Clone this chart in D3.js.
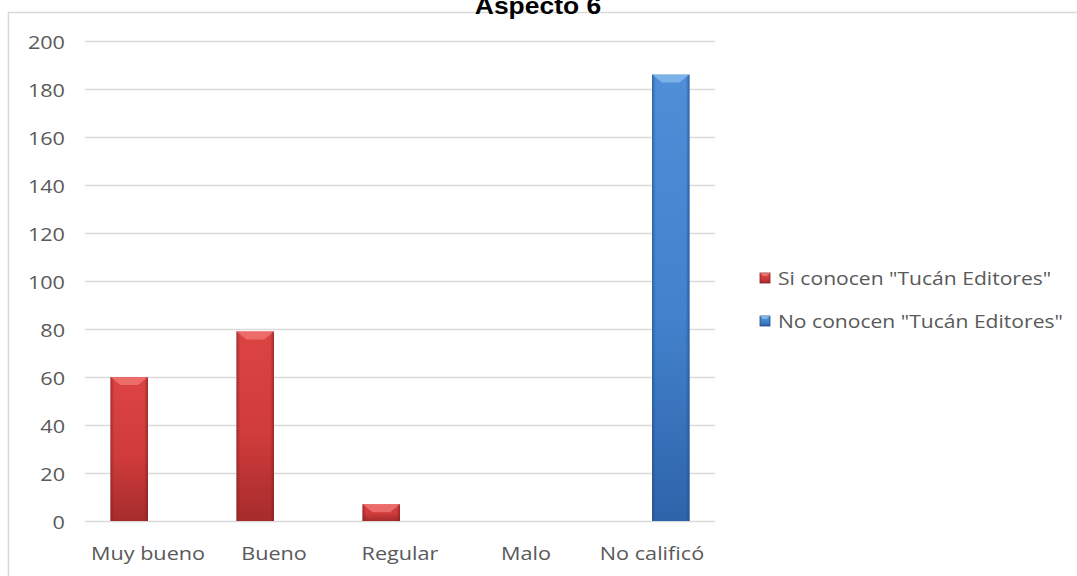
<!DOCTYPE html>
<html>
<head>
<meta charset="utf-8">
<script src="https://cdn.jsdelivr.net/npm/d3@7"></script>
<style>
  body { margin: 0; background: #fff; }
  #chart { width: 1077px; height: 576px; }
  .tick text { font-family: "Open Sans", sans-serif; font-size: 18.5px; fill: #595959; }
  .legend text { font-family: "Open Sans", sans-serif; font-size: 18.5px; fill: #595959; }
</style>
</head>
<body>
<div id="chart"></div>
<script>
var categories = ['Muy bueno', 'Bueno', 'Regular', 'Malo', 'No calificó'];
var seriesNames = ['Si conocen "Tucán Editores"', 'No conocen "Tucán Editores"'];
var siConocen = [60, 79, 7, 0, 0];
var noConocen = [0, 0, 0, 0, 186];
var yTicks = [0, 20, 40, 60, 80, 100, 120, 140, 160, 180, 200];

var W = 1077, H = 576;
var margin = {top: 41, right: 362, bottom: 55, left: 85};
var width = W - margin.left - margin.right;
var height = H - margin.top - margin.bottom;
var stretch = 'scale(1.17,1)';   // the original text looks widened

var colors = [
  {top: '#dc4443', mid: '#d03b3b', bot: '#a62c2c', edge: '#7e1f1f', hi: '#f27d7a'},
  {top: '#4f8fd8', mid: '#4281cc', bot: '#2e64aa', edge: '#1f4a82', hi: '#8fc0f0'}
];

var svg = d3.select('#chart').append('svg')
  .attr('width', W)
  .attr('height', H);

var defs = svg.append('defs');
colors.forEach(function(c, i) {
  var g = defs.append('linearGradient')
    .attr('id', 'fill' + i)
    .attr('x1', 0).attr('y1', 0).attr('x2', 0).attr('y2', 1);
  g.append('stop').attr('offset', '0%').attr('stop-color', c.top);
  g.append('stop').attr('offset', '55%').attr('stop-color', c.mid);
  g.append('stop').attr('offset', '100%').attr('stop-color', c.bot);
  var s = defs.append('linearGradient')
    .attr('id', 'side' + i)
    .attr('x1', 0).attr('y1', 0).attr('x2', 1).attr('y2', 0);
  s.append('stop').attr('offset', '0%').attr('stop-color', c.edge).attr('stop-opacity', 0.6);
  s.append('stop').attr('offset', '10%').attr('stop-color', c.edge).attr('stop-opacity', 0);
  s.append('stop').attr('offset', '90%').attr('stop-color', c.edge).attr('stop-opacity', 0);
  s.append('stop').attr('offset', '100%').attr('stop-color', c.edge).attr('stop-opacity', 0.65);
});

// chart frame
svg.append('rect')
  .attr('x', 8.5).attr('y', 12.5)
  .attr('width', W + 10).attr('height', H + 10)
  .attr('fill', 'none')
  .attr('stroke', '#d9d9d9')
  .attr('stroke-width', 1.5);

// title (cut at the top, as in the original)
svg.append('g')
  .attr('transform', 'translate(538,14) scale(1.15,1)')
  .append('text')
  .attr('text-anchor', 'middle')
  .style('font-family', 'Liberation Sans, Arial, sans-serif')
  .style('font-weight', 'bold')
  .style('font-size', '23px')
  .style('fill', '#000')
  .text('Aspecto 6');

var g = svg.append('g')
  .attr('transform', 'translate(' + margin.left + ',' + margin.top + ')');

var x0 = d3.scaleBand()
  .domain(categories)
  .range([0, width])
  .padding(0);

var x1 = d3.scaleBand()
  .domain([0, 1])
  .range([0, x0.bandwidth()])
  .paddingInner(0)
  .paddingOuter(0.68);

var y = d3.scaleLinear()
  .domain([0, 200])
  .range([height, 0]);

// gridlines
g.append('g')
  .attr('class', 'grid')
  .selectAll('line')
  .data(yTicks)
  .enter().append('line')
  .attr('x1', 0)
  .attr('x2', width)
  .attr('y1', function(d) { return Math.round(y(d)) + 0.5; })
  .attr('y2', function(d) { return Math.round(y(d)) + 0.5; })
  .attr('stroke', '#d9d9d9')
  .attr('stroke-width', 1.5);

// y axis labels
var yAxis = g.append('g')
  .attr('transform', 'translate(-20,0)')
  .call(d3.axisLeft(y).tickValues(yTicks).tickSize(0).tickPadding(0));
yAxis.select('.domain').remove();
yAxis.selectAll('.tick text')
  .attr('x', 0)
  .attr('dy', '0.4em')
  .attr('transform', stretch);

// x axis labels
var xAxis = g.append('g')
  .attr('transform', 'translate(0,' + height + ')')
  .call(d3.axisBottom(x0).tickSize(0).tickPadding(26));
xAxis.select('.domain').remove();
xAxis.selectAll('.tick text').attr('transform', stretch);

var rows = [];
categories.forEach(function(c, i) {
  rows.push({cat: c, s: 0, v: siConocen[i]});
  rows.push({cat: c, s: 1, v: noConocen[i]});
});
rows = rows.filter(function(d) { return d.v > 0; });

var bars = g.selectAll('.bar')
  .data(rows)
  .enter().append('g')
  .attr('class', 'bar');

function bx(d) { return x0(d.cat) + x1(d.s); }

bars.append('rect')
  .attr('x', bx)
  .attr('y', function(d) { return y(d.v); })
  .attr('width', x1.bandwidth())
  .attr('height', function(d) { return height - y(d.v); })
  .attr('fill', function(d) { return 'url(#fill' + d.s + ')'; });

bars.append('rect')
  .attr('x', bx)
  .attr('y', function(d) { return y(d.v); })
  .attr('width', x1.bandwidth())
  .attr('height', function(d) { return height - y(d.v); })
  .attr('fill', function(d) { return 'url(#side' + d.s + ')'; });

// top bevel
bars.append('path')
  .attr('d', function(d) {
    var x = bx(d), w = x1.bandwidth(), t = y(d.v);
    var b = Math.min(8, (height - y(d.v)) / 2);
    return 'M' + x + ',' + t + 'L' + (x + w) + ',' + t +
      'L' + (x + w - b - 2) + ',' + (t + b) + 'L' + (x + b + 2) + ',' + (t + b) + 'Z';
  })
  .attr('fill', function(d) { return colors[d.s].hi; })
  .attr('opacity', 0.7);

// legend
var legend = svg.append('g')
  .attr('class', 'legend')
  .attr('transform', 'translate(760,278)');

var items = legend.selectAll('g')
  .data(seriesNames)
  .enter().append('g')
  .attr('transform', function(d, i) { return 'translate(0,' + (i * 43) + ')'; });

items.append('rect')
  .attr('x', 0).attr('y', -5)
  .attr('width', 10).attr('height', 10)
  .attr('fill', function(d, i) { return 'url(#fill' + i + ')'; })
  .attr('stroke', function(d, i) { return colors[i].edge; })
  .attr('stroke-width', 0.8);

items.append('path')
  .attr('d', 'M0,-5L10,-5L7,-2L3,-2Z')
  .attr('fill', function(d, i) { return colors[i].hi; })
  .attr('opacity', 0.8);

items.append('g')
  .attr('transform', 'translate(18,0) scale(1.14,1)')
  .append('text')
  .attr('dy', '0.36em')
  .text(function(d) { return d; });
</script>
</body>
</html>
